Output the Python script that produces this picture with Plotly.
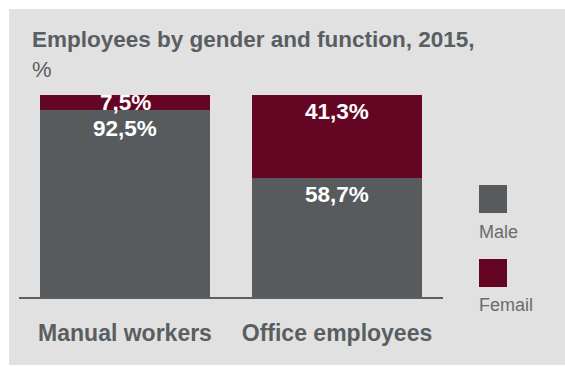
import plotly.graph_objects as go

# Data
categories = ["Manual workers", "Office employees"]
male = [92.5, 58.7]
female = [7.5, 41.3]
series_names = ["Male", "Femail"]
title_line1 = "Employees by gender and function, 2015,"
title_line2 = "%"

# Style
MALE_C = "#575b5e"
FEMALE_C = "#640523"
PANEL_C = "#e1e1e1"
TEXT_C = "#595e61"
LEGEND_TEXT_C = "#686c6f"
FONT = "Liberation Sans, Arial, sans-serif"

W, H = 565, 367
L, R, T, B = 19, 122, 95, 70
PW, PH = W - L - R, H - T - B


def px_x(x):
    return (x - L) / PW


def px_y(y):
    return (H - B - y) / PH


def fmt(v):
    return f"{v:.1f}".replace(".", ",") + "%"


fig = go.Figure()
fig.add_trace(go.Bar(x=categories, y=male, name=series_names[0],
                     marker=dict(color=MALE_C, line=dict(width=0))))
fig.add_trace(go.Bar(x=categories, y=female, name=series_names[1],
                     marker=dict(color=FEMALE_C, line=dict(width=0))))

# value labels: inside the top of each segment; centered when the segment is
# too thin, and pushed down when colliding with the label above
px_per_unit = PH / 100.0
label_font = dict(family=FONT, size=22.5, color="white", weight="bold")
annotations = []
for i, cat in enumerate(categories):
    prev_center_px = None
    segs = [(female[i], male[i] + female[i]), (male[i], male[i])]
    for val, top in segs:
        seg_px = val * px_per_unit
        if seg_px < 30:
            center_px = seg_px / 2
        else:
            center_px = 16.5
        abs_center = (100 - top) * px_per_unit + center_px
        if prev_center_px is not None and abs_center - prev_center_px < 26:
            abs_center = prev_center_px + 26
            center_px = abs_center - (100 - top) * px_per_unit
        prev_center_px = abs_center
        annotations.append(dict(x=cat, y=top, xref="x", yref="y", text=fmt(val),
                                showarrow=False, yanchor="middle",
                                yshift=-center_px, font=label_font))

# title
annotations.append(dict(x=px_x(30), y=px_y(40), xref="paper", yref="paper",
                        text=title_line1, showarrow=False, xanchor="left",
                        yanchor="middle",
                        font=dict(family=FONT, size=22.5, color=TEXT_C, weight="bold")))
annotations.append(dict(x=px_x(30), y=px_y(70), xref="paper", yref="paper",
                        text=title_line2, showarrow=False, xanchor="left",
                        yanchor="middle",
                        font=dict(family=FONT, size=22, color=TEXT_C)))

# legend: swatch above label
shapes = [dict(type="rect", xref="paper", yref="paper", layer="below",
               x0=px_x(9), x1=px_x(565), y0=px_y(9), y1=px_y(365),
               fillcolor=PANEL_C, line=dict(width=0))]
legend_items = [(series_names[0], MALE_C, 185, 232),
                (series_names[1], FEMALE_C, 259, 305)]
for name, col, sq_top, txt_y in legend_items:
    shapes.append(dict(type="rect", xref="paper", yref="paper",
                       x0=px_x(479), x1=px_x(507), y0=px_y(sq_top), y1=px_y(sq_top + 28),
                       fillcolor=col, line=dict(width=0)))
    annotations.append(dict(x=px_x(477), y=px_y(txt_y), xref="paper", yref="paper",
                            text=name, showarrow=False, xanchor="left", yanchor="middle",
                            font=dict(family=FONT, size=18, color=LEGEND_TEXT_C)))

fig.update_layout(
    width=W, height=H,
    margin=dict(l=L, r=R, t=T, b=B, pad=0),
    barmode="stack", bargap=0.2,
    paper_bgcolor="white", plot_bgcolor="rgba(0,0,0,0)",
    showlegend=False,
    shapes=shapes, annotations=annotations,
    xaxis=dict(range=[-0.5, 1.5], showgrid=False, zeroline=False,
               showline=True, linecolor="#5b5f62", linewidth=2, ticks="",
               ticklabelstandoff=14,
               tickfont=dict(family=FONT, size=23, color=TEXT_C, weight="bold")),
    yaxis=dict(range=[0, 100], visible=False, showgrid=False, zeroline=False),
)

fig.write_html("out.html")
